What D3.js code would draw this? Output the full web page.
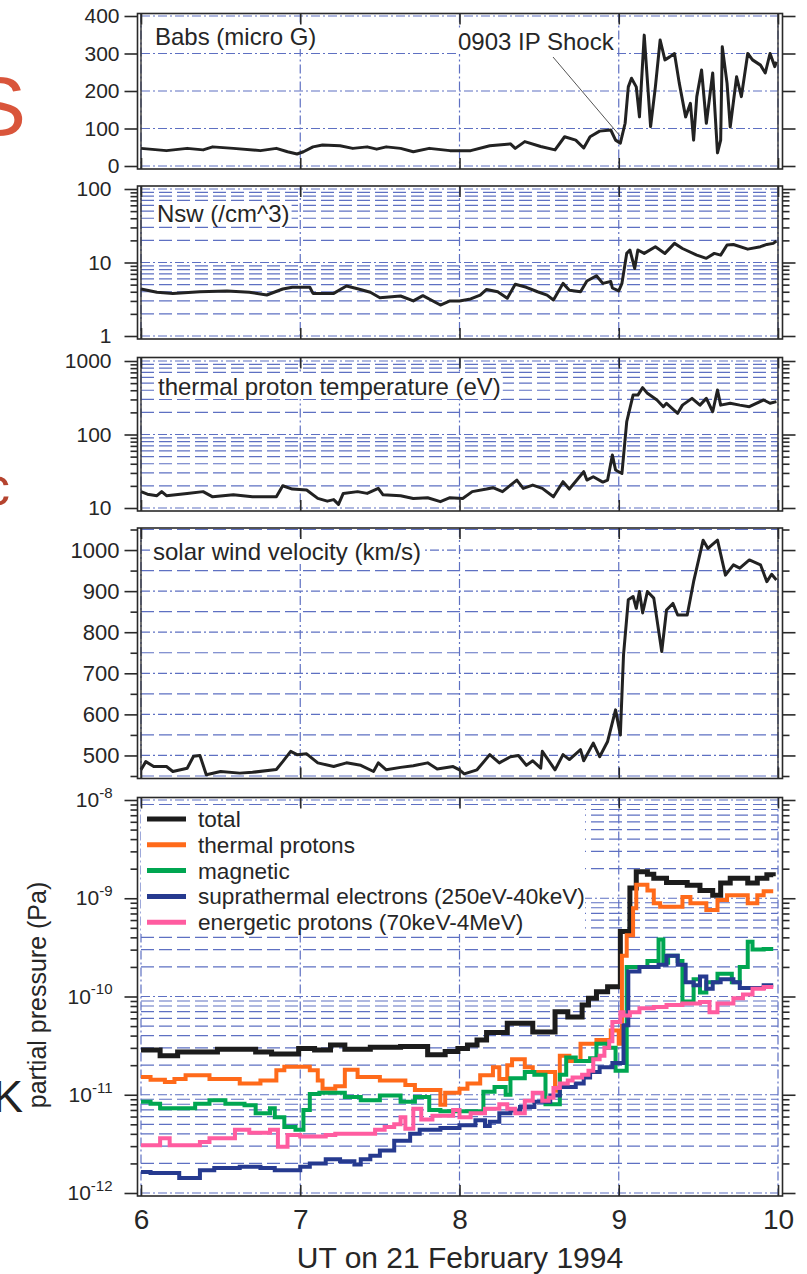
<!DOCTYPE html>
<html>
<head>
<meta charset="utf-8">
<script src="https://d3js.org/d3.v7.min.js"></script>
<style>
  body { margin: 0; background: #fff; }
  svg text { font-family: "Liberation Sans", Arial, sans-serif; fill: #262626; }
</style>
</head>
<body>
<svg id="chart" width="807" height="1274"></svg>
<script>
// values: [hour UT, value]
const hourTicks = [6, 7, 8, 9, 10];

const babs = [
    [6.00, 47], [6.16, 41], [6.29, 47], [6.39, 43], [6.45, 51], [6.58, 47], [6.75, 41], [6.85, 47], [6.92, 38], [6.98, 32],
    [7.02, 38], [7.08, 51], [7.14, 56], [7.25, 54], [7.33, 47], [7.42, 51], [7.48, 45], [7.54, 51], [7.63, 47], [7.71, 38],
    [7.81, 47], [7.94, 41], [8.07, 41], [8.19, 54], [8.32, 59], [8.35, 47], [8.41, 65], [8.51, 52], [8.60, 43], [8.66, 78],
    [8.73, 69], [8.78, 48], [8.82, 78], [8.88, 93], [8.95, 96], [8.98, 69], [9.01, 61], [9.04, 114], [9.06, 211], [9.08, 234],
    [9.11, 211], [9.13, 131], [9.16, 349], [9.20, 105], [9.23, 211], [9.26, 336], [9.29, 283], [9.32, 291], [9.35, 300], [9.38, 221],
    [9.42, 131], [9.45, 167], [9.47, 69], [9.49, 185], [9.52, 256], [9.55, 114], [9.59, 248], [9.62, 35], [9.64, 69], [9.65, 318],
    [9.68, 221], [9.70, 104], [9.74, 238], [9.77, 185], [9.81, 300], [9.84, 283], [9.89, 269], [9.92, 248], [9.95, 300], [9.98, 265], [9.99, 278]
];

const nsw = [
    [6.00, 4.36], [6.10, 3.93], [6.20, 3.80], [6.37, 4.0], [6.54, 4.1], [6.68, 3.93], [6.79, 3.61], [6.89, 4.36], [6.95, 4.6], [7.06, 4.6],
    [7.08, 3.8], [7.21, 3.8], [7.29, 4.8], [7.36, 4.4], [7.44, 3.93], [7.50, 3.32], [7.63, 3.5], [7.71, 3.0], [7.77, 3.54], [7.88, 2.64],
    [7.94, 3.0], [8.00, 3.0], [8.07, 3.19], [8.13, 3.6], [8.17, 4.3], [8.24, 4.0], [8.30, 3.26], [8.35, 5.05], [8.42, 4.6], [8.49, 4.0],
    [8.55, 3.6], [8.59, 3.09], [8.65, 5.2], [8.69, 4.2], [8.76, 4.0], [8.80, 5.6], [8.86, 6.6], [8.90, 5.2], [8.95, 5.5], [8.96, 4.5],
    [9.00, 4.1], [9.02, 5.2], [9.05, 13.3], [9.07, 14.8], [9.10, 8.3], [9.12, 14.8], [9.16, 13.3], [9.23, 16.4], [9.29, 13.3], [9.35, 18.2],
    [9.40, 15.5], [9.49, 12.6], [9.55, 11.4], [9.60, 13.3], [9.64, 12.6], [9.68, 17.3], [9.72, 17.6], [9.81, 15.2], [9.89, 16.4], [9.93, 17.6],
    [9.97, 18.2], [9.99, 19.6]
];

const tp = [
    [6.00, 16.7], [6.04, 15.4], [6.10, 14.7], [6.13, 16.7], [6.16, 14.7], [6.29, 15.8], [6.39, 16.7], [6.45, 14.2], [6.58, 15.1], [6.70, 14.2],
    [6.85, 14.2], [6.89, 20.1], [6.95, 18.1], [7.04, 17.6], [7.11, 13.5], [7.17, 12.4], [7.21, 13.0], [7.24, 11.2], [7.27, 15.8], [7.36, 16.7],
    [7.42, 15.8], [7.49, 18.5], [7.52, 15.1], [7.63, 14.7], [7.71, 13.5], [7.80, 13.8], [7.88, 12.2], [7.94, 13.8], [8.02, 13.5], [8.08, 16.7],
    [8.17, 18.1], [8.21, 18.9], [8.27, 16.7], [8.36, 24.0], [8.40, 18.5], [8.46, 20.5], [8.52, 18.5], [8.59, 14.2], [8.65, 22.8], [8.69, 18.1],
    [8.78, 31.2], [8.80, 24.0], [8.84, 26.6], [8.90, 22.5], [8.93, 24.0], [8.96, 52.5], [8.98, 32.9], [9.02, 29.5], [9.05, 149], [9.09, 344],
    [9.12, 344], [9.15, 434], [9.18, 363], [9.24, 295], [9.28, 239], [9.30, 266], [9.37, 194], [9.40, 251], [9.46, 310], [9.51, 251],
    [9.55, 310], [9.59, 204], [9.62, 403], [9.64, 251], [9.70, 266], [9.76, 251], [9.82, 239], [9.91, 295], [9.95, 266], [9.99, 280]
];

const vsw = [
    [6.00, 465], [6.03, 485], [6.08, 473], [6.16, 473], [6.20, 461], [6.29, 469], [6.33, 498], [6.37, 500], [6.41, 453], [6.50, 461],
    [6.62, 457], [6.70, 459], [6.85, 466], [6.89, 485], [6.94, 510], [6.98, 502], [7.04, 504], [7.11, 482], [7.21, 473], [7.29, 482],
    [7.38, 476], [7.46, 461], [7.49, 482], [7.54, 465], [7.63, 471], [7.71, 475], [7.80, 482], [7.86, 467], [7.96, 473], [8.00, 465],
    [8.03, 455], [8.11, 465], [8.19, 502], [8.25, 482], [8.32, 497], [8.37, 500], [8.42, 476], [8.46, 487], [8.51, 469], [8.52, 510],
    [8.60, 465], [8.65, 502], [8.69, 490], [8.76, 514], [8.78, 487], [8.84, 530], [8.88, 497], [8.93, 534], [8.98, 611], [9.01, 550],
    [9.03, 745], [9.06, 879], [9.09, 887], [9.11, 858], [9.13, 899], [9.15, 847], [9.18, 899], [9.22, 883], [9.27, 753], [9.30, 854],
    [9.34, 870], [9.37, 842], [9.43, 842], [9.47, 923], [9.53, 1024], [9.56, 1004], [9.62, 1024], [9.67, 939], [9.72, 964], [9.76, 956],
    [9.82, 976], [9.89, 964], [9.93, 923], [9.96, 941], [9.99, 927]
];

// partial pressures (Pa), step series: value holds from this hour to the next
const pTotal = [
    [6.00, 2.85e-11], [6.12, 2.5e-11], [6.23, 2.73e-11], [6.48, 2.9e-11], [6.72, 2.73e-11], [6.82, 2.6e-11], [6.99, 2.95e-11], [7.09, 2.85e-11],
    [7.19, 3.2e-11], [7.28, 2.9e-11], [7.44, 3.05e-11], [7.63, 3.1e-11], [7.80, 2.55e-11], [7.91, 2.75e-11], [7.99, 2.95e-11], [8.05, 3.2e-11],
    [8.11, 3.6e-11], [8.17, 4.3e-11], [8.30, 5.35e-11], [8.46, 4.35e-11], [8.60, 6.98e-11], [8.68, 6.2e-11], [8.77, 8.2e-11], [8.81, 9.6e-11],
    [8.86, 1.12e-10], [8.93, 1.26e-10], [9.01, 4.6e-10], [9.07, 1.27e-9], [9.11, 1.86e-9], [9.18, 1.75e-9], [9.22, 1.6e-9], [9.30, 1.45e-9],
    [9.43, 1.36e-9], [9.51, 1.2e-9], [9.59, 1.07e-9], [9.64, 1.43e-9], [9.70, 1.6e-9], [9.81, 1.43e-9], [9.87, 1.6e-9], [9.93, 1.73e-9],
    [9.97, 1.67e-9]
];

const pThermal = [
    [6.00, 1.52e-11], [6.06, 1.42e-11], [6.15, 1.35e-11], [6.21, 1.45e-11], [6.28, 1.58e-11], [6.43, 1.45e-11], [6.62, 1.3e-11], [6.75, 1.4e-11],
    [6.85, 1.78e-11], [6.90, 1.93e-11], [7.06, 1.78e-11], [7.11, 1.4e-11], [7.14, 1.15e-11], [7.22, 1.22e-11], [7.28, 1.8e-11], [7.36, 1.52e-11],
    [7.50, 1.4e-11], [7.66, 1.26e-11], [7.72, 1.12e-11], [7.88, 7.9e-12], [7.91, 1.05e-11], [8.00, 1.15e-11], [8.05, 1.3e-11], [8.13, 1.58e-11],
    [8.21, 1.9e-11], [8.25, 1.45e-11], [8.30, 2.0e-11], [8.33, 2.3e-11], [8.41, 1.9e-11], [8.46, 1.7e-11], [8.60, 1.1e-11], [8.63, 2.5e-11],
    [8.69, 2.2e-11], [8.76, 3.3e-11], [8.86, 3.6e-11], [8.95, 4.5e-11], [9.00, 3.3e-11], [9.02, 2.6e-10], [9.05, 4.2e-10], [9.09, 7.9e-10],
    [9.11, 1.37e-9], [9.18, 1.2e-9], [9.22, 8.9e-10], [9.26, 8.2e-10], [9.40, 1.03e-9], [9.45, 8.9e-10], [9.55, 7.6e-10], [9.62, 9.6e-10],
    [9.68, 1.07e-9], [9.81, 8.9e-10], [9.87, 1.07e-9], [9.91, 1.18e-9], [9.97, 1.18e-9]
];

const pMagnetic = [
    [6.00, 8.5e-12], [6.06, 8.1e-12], [6.12, 7.3e-12], [6.34, 8.1e-12], [6.43, 8.8e-12], [6.53, 8.1e-12], [6.65, 7.8e-12], [6.72, 6.5e-12],
    [6.81, 7.3e-12], [6.84, 5.9e-12], [6.90, 4.7e-12], [6.97, 4.4e-12], [7.02, 7.0e-12], [7.06, 1.02e-11], [7.12, 1.05e-11], [7.28, 9.5e-12],
    [7.38, 8.8e-12], [7.50, 9.8e-12], [7.63, 8.5e-12], [7.72, 9.5e-12], [7.81, 7.0e-12], [7.88, 6.8e-12], [8.15, 1.07e-11], [8.22, 1.2e-11],
    [8.29, 1.0e-11], [8.32, 1.47e-11], [8.41, 1.7e-11], [8.47, 1.6e-11], [8.54, 8.0e-12], [8.63, 1.6e-11], [8.67, 2.4e-11], [8.73, 2.2e-11],
    [8.82, 2.35e-11], [8.86, 3.3e-11], [8.93, 3.0e-11], [8.98, 1.75e-11], [9.05, 2.0e-10], [9.18, 2.3e-10], [9.25, 3.8e-10], [9.28, 2.2e-10],
    [9.31, 2.6e-10], [9.37, 2.3e-10], [9.40, 8.9e-11], [9.47, 1.5e-10], [9.51, 1.1e-10], [9.55, 1.4e-10], [9.62, 1.7e-10], [9.71, 1.4e-10],
    [9.76, 2.0e-10], [9.81, 3.6e-10], [9.84, 3.0e-10], [9.91, 3.05e-10], [9.97, 3.05e-10]
];

const pSupra = [
    [6.00, 1.64e-12], [6.06, 1.6e-12], [6.24, 1.42e-12], [6.37, 1.7e-12], [6.46, 1.8e-12], [6.62, 1.85e-12], [6.75, 1.8e-12], [6.84, 1.7e-12],
    [7.00, 1.85e-12], [7.06, 2.0e-12], [7.16, 2.2e-12], [7.25, 2.1e-12], [7.34, 1.95e-12], [7.38, 2.2e-12], [7.44, 2.4e-12], [7.50, 2.7e-12],
    [7.59, 3.4e-12], [7.69, 4.0e-12], [7.75, 4.4e-12], [7.88, 4.6e-12], [8.00, 4.9e-12], [8.10, 5.5e-12], [8.16, 4.8e-12], [8.19, 5.3e-12],
    [8.25, 6.5e-12], [8.32, 6.9e-12], [8.38, 7.5e-12], [8.47, 8.5e-12], [8.57, 9.8e-12], [8.63, 1.2e-11], [8.73, 1.3e-11], [8.78, 1.5e-11],
    [8.82, 1.7e-11], [8.88, 1.9e-11], [8.96, 2.1e-11], [9.03, 5.1e-11], [9.06, 1.8e-10], [9.13, 2.0e-10], [9.25, 2.1e-10], [9.30, 2.6e-10],
    [9.37, 2.1e-10], [9.42, 1.4e-10], [9.47, 1.3e-10], [9.51, 1.6e-10], [9.55, 1.2e-10], [9.59, 1.4e-10], [9.64, 1.5e-10], [9.72, 1.4e-10],
    [9.76, 1.22e-10], [9.87, 1.22e-10], [9.91, 1.3e-10], [9.97, 1.3e-10]
];

const pEnergetic = [
    [6.00, 3.07e-12], [6.12, 3.6e-12], [6.18, 3.07e-12], [6.37, 3.3e-12], [6.43, 3.6e-12], [6.59, 4.4e-12], [6.68, 4.1e-12], [6.81, 4.4e-12],
    [6.86, 2.95e-12], [6.92, 3.9e-12], [7.00, 3.75e-12], [7.16, 3.9e-12], [7.22, 4.0e-12], [7.47, 4.4e-12], [7.53, 4.7e-12], [7.59, 5.0e-12],
    [7.63, 5.9e-12], [7.66, 4.5e-12], [7.71, 7.2e-12], [7.76, 5.6e-12], [7.83, 6.1e-12], [7.96, 7.0e-12], [8.00, 5.9e-12], [8.07, 6.5e-12],
    [8.16, 7.2e-12], [8.25, 8.0e-12], [8.30, 7.2e-12], [8.35, 6.5e-12], [8.41, 8.7e-12], [8.46, 1.05e-11], [8.52, 8.7e-12], [8.56, 9.3e-12],
    [8.59, 1.17e-11], [8.63, 1.3e-11], [8.68, 1.4e-11], [8.71, 1.5e-11], [8.77, 1.6e-11], [8.81, 1.75e-11], [8.84, 2.3e-11], [8.88, 2.5e-11],
    [8.91, 3.0e-11], [8.94, 3.5e-11], [8.96, 5.5e-11], [9.01, 6.9e-11], [9.03, 6.4e-11], [9.07, 6.9e-11], [9.13, 7.6e-11], [9.22, 7.8e-11],
    [9.30, 8.2e-11], [9.40, 8.5e-11], [9.51, 8.8e-11], [9.57, 6.9e-11], [9.62, 8.5e-11], [9.72, 9.6e-11], [9.78, 1.05e-10], [9.84, 1.2e-10],
    [9.91, 1.25e-10], [9.97, 1.25e-10]
];

const legendNames = ['total', 'thermal protons', 'magnetic', 'suprathermal electrons (250eV-40keV)', 'energetic protons (70keV-4MeV)'];
const legendColors = ['#1c1c1c', '#ff6a1a', '#00a651', '#263a8f', '#ff5ca0'];

const babsTicks = [0, 100, 200, 300, 400];
const nswTicks = [1, 10, 100];
const tpTicks = [10, 100, 1000];
const vswTicks = [500, 600, 700, 800, 900, 1000];
const vswMinor = [450, 550, 650, 750, 850, 950, 1050];
const pressTicks = [1e-12, 1e-11, 1e-10, 1e-9, 1e-8];


const svg = d3.select('#chart');
const xScale = d3.scaleLinear().domain([6, 10]).range([141, 778]);
const gridColor = '#5e70c2';
const majorDash = '9,3,2,3';
const minorDash = '13,5';
const frameLeft = 137.5, frameRight = 782.5;

const isDecade = d => Math.abs(Math.log10(d) - Math.round(Math.log10(d))) < 1e-6;
const logMinor = (scale) => scale.ticks().filter(d => !isDecade(d));

function hLines(g, scale, values, dash) {
    g.selectAll(null)
        .data(values)
        .enter()
        .append('line')
        .attr('x1', xScale(6))
        .attr('x2', xScale(10))
        .attr('y1', d => scale(d))
        .attr('y2', d => scale(d))
        .attr('stroke', gridColor)
        .attr('stroke-width', 1.2)
        .attr('stroke-dasharray', dash);
}

function labelWithBg(g, txt, x, y, size) {
    const bg = g.append('rect').attr('fill', '#fff');
    const t = g.append('text')
        .attr('x', x)
        .attr('y', y)
        .style('font-size', size + 'px')
        .text(txt);
    const b = t.node().getBBox();
    bg.attr('x', b.x - 2).attr('y', b.y + 1).attr('width', b.width + 4).attr('height', b.height - 2);
    return t;
}

function makePanel(p) {
    const y = p.scale;
    const g = svg.append('g');
    const [top, bottom] = p.frame;

    // grid
    hLines(g, y, p.minor, minorDash);
    hLines(g, y, p.major, majorDash);
    g.selectAll(null)
        .data(hourTicks)
        .enter()
        .append('line')
        .attr('x1', d => xScale(d))
        .attr('x2', d => xScale(d))
        .attr('y1', top)
        .attr('y2', bottom)
        .attr('stroke', gridColor)
        .attr('stroke-width', 1.2)
        .attr('stroke-dasharray', majorDash);

    if (p.edges) {
        [6, 10].forEach(h => g.append('line')
            .attr('x1', xScale(h)).attr('x2', xScale(h))
            .attr('y1', top).attr('y2', bottom)
            .attr('stroke', '#333').attr('stroke-width', 1.4));
    }

    if (p.label) labelWithBg(g, p.label, p.labelX, p.labelY, 24);

    if (p.extra) p.extra(g, y);

    if (p.series) {
        p.series.forEach((s, i) => {
            g.append('path')
                .datum(s)
                .attr('fill', 'none')
                .attr('stroke', p.colors[i])
                .attr('stroke-width', i === 0 ? 5 : 4)
                .attr('stroke-linejoin', 'miter')
                .attr('d', d3.line()
                    .x(d => xScale(d[0]))
                    .y(d => y(d[1]))
                    .curve(d3.curveStepAfter));
        });
    } else {
        g.append('path')
            .datum(p.data)
            .attr('fill', 'none')
            .attr('stroke', '#222')
            .attr('stroke-width', 3)
            .attr('stroke-linejoin', 'round')
            .attr('d', d3.line()
                .x(d => xScale(d[0]))
                .y(d => y(d[1])));
    }

    // frame
    g.append('rect')
        .attr('x', frameLeft)
        .attr('y', top)
        .attr('width', frameRight - frameLeft)
        .attr('height', bottom - top)
        .attr('fill', 'none')
        .attr('stroke', '#2a2a2a')
        .attr('stroke-width', 1.6);

    const styleAxis = a => {
        a.select('.domain').remove();
        a.selectAll('line').attr('stroke', '#2a2a2a').attr('stroke-width', 1.6);
        a.selectAll('text').style('font-size', p.tickFont + 'px').attr('fill', '#262626');
    };

    // y ticks, both sides
    g.append('g')
        .attr('transform', `translate(${frameLeft},0)`)
        .call(d3.axisLeft(y).tickValues(p.major).tickSize(13).tickPadding(p.tickPad)
            .tickFormat(p.superscript ? (() => '10') : d3.format('d')))
        .call(styleAxis)
        .call(a => {
            if (!p.superscript) return;
            a.selectAll('.tick text')
                .append('tspan')
                .attr('dy', '-0.62em')
                .style('font-size', '15px')
                .text(d => Math.round(Math.log10(d)));
        });
    g.append('g')
        .attr('transform', `translate(${frameLeft},0)`)
        .call(d3.axisLeft(y).tickValues(p.minor).tickSize(7).tickFormat(''))
        .call(styleAxis);
    g.append('g')
        .attr('transform', `translate(${frameRight},0)`)
        .call(d3.axisRight(y).tickValues(p.major).tickSize(13).tickFormat(''))
        .call(styleAxis);
    g.append('g')
        .attr('transform', `translate(${frameRight},0)`)
        .call(d3.axisRight(y).tickValues(p.minor).tickSize(7).tickFormat(''))
        .call(styleAxis);

    // x ticks pointing in, top and bottom
    g.append('g')
        .attr('transform', `translate(0,${top})`)
        .call(d3.axisTop(xScale).tickValues(hourTicks).tickSize(-11).tickFormat(''))
        .call(styleAxis);
    g.append('g')
        .attr('transform', `translate(0,${bottom})`)
        .call(d3.axisBottom(xScale).tickValues(hourTicks).tickSize(-11).tickFormat(''))
        .call(styleAxis);

    return g;
}

const nswScale = d3.scaleLog().domain([1, 100]).range([336, 189]);
const tpScale = d3.scaleLog().domain([10, 1000]).range([508, 361]);
const pressScale = d3.scaleLog().domain([1e-12, 1e-8]).range([1193, 800]);

makePanel({
    data: babs, scale: d3.scaleLinear().domain([0, 400]).range([166, 16]),
    major: babsTicks, minor: [], frame: [13.5, 169], edges: true,
    label: 'Babs (micro G)', labelX: 155, labelY: 45, tickPad: 5, tickFont: 21,
    extra: (g) => {
        labelWithBg(g, '0903 IP Shock', 458, 50, 24);
        g.append('line')
            .attr('x1', 553).attr('y1', 57)
            .attr('x2', 620).attr('y2', 136)
            .attr('stroke', '#555').attr('stroke-width', 1);
    }
});

makePanel({
    data: nsw, scale: nswScale, major: nswTicks, minor: logMinor(nswScale),
    frame: [186, 339], edges: true,
    label: 'Nsw (/cm^3)', labelX: 157, labelY: 222, tickPad: 13, tickFont: 21
});

makePanel({
    data: tp, scale: tpScale, major: tpTicks, minor: logMinor(tpScale),
    frame: [357.5, 511], edges: true,
    label: 'thermal proton temperature (eV)', labelX: 158, labelY: 395, tickPad: 13, tickFont: 21
});

makePanel({
    data: vsw, scale: d3.scaleLinear().domain([450, 1050]).range([776, 529.5]),
    major: vswTicks, minor: vswMinor, frame: [528, 778.5], edges: true,
    label: 'solar wind velocity (km/s)', labelX: 153, labelY: 560, tickPad: 5, tickFont: 22
});

makePanel({
    scale: pressScale, major: pressTicks, minor: logMinor(pressScale),
    frame: [797.5, 1196], superscript: true, tickPad: 12, tickFont: 21,
    series: [pTotal, pThermal, pMagnetic, pSupra, pEnergetic],
    colors: legendColors,
    extra: (g) => {
        g.append('rect')
            .attr('x', 141).attr('y', 806)
            .attr('width', 444).attr('height', 128)
            .attr('fill', '#fff');
        const rows = g.selectAll(null)
            .data(legendNames)
            .enter()
            .append('g')
            .attr('transform', (d, i) => `translate(0,${819 + i * 25.8})`);
        rows.append('line')
            .attr('x1', 147).attr('x2', 186)
            .attr('stroke', (d, i) => legendColors[i])
            .attr('stroke-width', 5);
        rows.append('text')
            .attr('x', 198)
            .attr('dy', '0.35em')
            .style('font-size', '22.6px')
            .text(d => d);
    }
});

// hour labels under the last panel
svg.append('g')
    .attr('transform', 'translate(0,1196)')
    .call(d3.axisBottom(xScale).tickValues(hourTicks).tickSize(0).tickPadding(13).tickFormat(d3.format('d')))
    .call(a => {
        a.select('.domain').remove();
        a.selectAll('text').style('font-size', '28px').attr('fill', '#262626');
    });

svg.append('text')
    .attr('x', 460)
    .attr('y', 1268)
    .attr('text-anchor', 'middle')
    .style('font-size', '30px')
    .text('UT on 21 February 1994');

svg.append('text')
    .attr('transform', 'translate(46,995) rotate(-90)')
    .attr('text-anchor', 'middle')
    .style('font-size', '25px')
    .text('partial pressure (Pa)');

// letters of the neighbouring slide text, cut by the left edge as in the source
svg.append('text')
    .attr('x', 26).attr('y', 135)
    .attr('text-anchor', 'end')
    .style('font-size', '84px')
    .style('fill', '#d9553b')
    .text('S');
svg.append('text')
    .attr('x', 10).attr('y', 505)
    .attr('text-anchor', 'end')
    .style('font-size', '54px')
    .style('fill', '#b5442f')
    .text('c');
svg.append('text')
    .attr('x', 23).attr('y', 1112)
    .attr('text-anchor', 'end')
    .style('font-size', '45px')
    .style('fill', '#222')
    .text('K');
</script>
</body>
</html>
